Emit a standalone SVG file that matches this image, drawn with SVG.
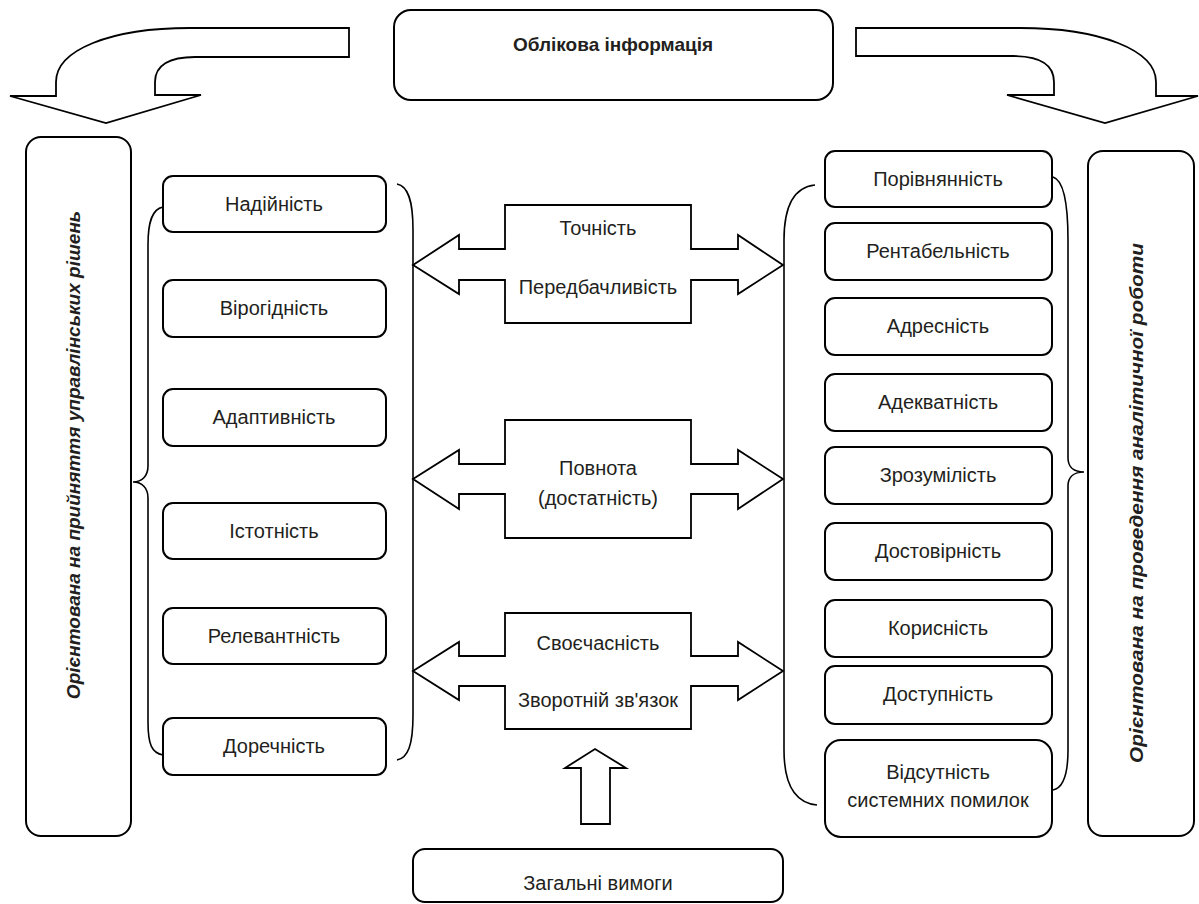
<svg xmlns="http://www.w3.org/2000/svg" width="1199" height="904" viewBox="0 0 1199 904">
<style>
.box{fill:#fff;stroke:#000;stroke-width:2}
.brace{fill:none;stroke:#000;stroke-width:1.6}
.arrow{fill:#fff;stroke:#000;stroke-width:1.8}
.t{font-family:"Liberation Sans",Arial,sans-serif;font-size:20px;fill:#231f20;text-anchor:middle}
.tb{font-weight:bold;font-size:19px}
.tv{font-weight:bold;font-style:italic;font-size:19px}
</style>
<rect width="1199" height="904" fill="#fff"/>
<g id="connectors">
<path class="arrow" d="M349,28 L190,28 C110,28 56,50 56,82 L56,96 L10,96 L106,123 L201,95 L155,95 L155,82 C155,65 170,57 195,57 L349,57 Z"/>
<path class="arrow" d="M856,28 L1020,28 C1100,28 1156,50 1156,82 L1156,96 L1198,96 L1105,123 L1007,95 L1054,95 L1054,82 C1054,65 1040,56 1013,56 L856,56 Z"/>
<path class="brace" d="M163,207 C152,209 148,222 148,245 L148,466 C148,476 142,482 133,482 C142,482 148,488 148,498 L148,722 C148,745 152,753 163,755"/>
<path class="brace" d="M397,184 C408,186 413,200 413,230 L413,715 C413,745 408,758 397,760"/>
<path class="brace" d="M815,185 C795,187 784,205 784,240 L784,750 C784,785 795,803 817,805"/>
<path class="brace" d="M1053,177 C1063,180 1068,200 1068,240 L1068,458 C1068,467 1074,472 1084,472 C1074,472 1068,477 1068,486 L1068,750 C1068,775 1063,788 1053,790"/>
<path class="arrow" d="M581,824 L581,768 L565,768 L595,749 L626,768 L610,768 L610,824 Z"/>
</g>
<g id="top">
<rect class="box" x="394" y="10" width="439" height="90" rx="17"/>
<text class="t tb" x="613" y="51">Облікова інформація</text>
</g>
<g id="left-main">
<rect class="box" x="26" y="137" width="105" height="699" rx="15"/>
<text class="t tv" transform="translate(80,455) rotate(-90)">Орієнтована на прийняття управлінських рішень</text>
</g>
<g id="right-main">
<rect class="box" x="1088" y="151" width="106" height="685" rx="15"/>
<text class="t tv" transform="translate(1143,503) rotate(-90)" textLength="520" lengthAdjust="spacingAndGlyphs">Орієнтована на проведення аналітичної роботи</text>
</g>
<g id="l1"><rect class="box" x="163" y="176" width="223" height="56" rx="10"/><text class="t" x="274" y="211">Надійність</text></g>
<g id="l2"><rect class="box" x="163" y="280" width="223" height="57" rx="10"/><text class="t" x="274" y="315">Вірогідність</text></g>
<g id="l3"><rect class="box" x="163" y="389" width="223" height="57" rx="10"/><text class="t" x="274" y="424">Адаптивність</text></g>
<g id="l4"><rect class="box" x="163" y="503" width="223" height="56" rx="10"/><text class="t" x="274" y="538">Істотність</text></g>
<g id="l5"><rect class="box" x="163" y="608" width="223" height="56" rx="10"/><text class="t" x="274" y="643">Релевантність</text></g>
<g id="l6"><rect class="box" x="163" y="718" width="223" height="57" rx="10"/><text class="t" x="274" y="753">Доречність</text></g>
<g id="r1"><rect class="box" x="825" y="151" width="227" height="56" rx="10"/><text class="t" x="938" y="186">Порівнянність</text></g>
<g id="r2"><rect class="box" x="825" y="223" width="227" height="57" rx="10"/><text class="t" x="938" y="258">Рентабельність</text></g>
<g id="r3"><rect class="box" x="825" y="298" width="227" height="57" rx="10"/><text class="t" x="938" y="333">Адресність</text></g>
<g id="r4"><rect class="box" x="825" y="374" width="227" height="57" rx="10"/><text class="t" x="938" y="409">Адекватність</text></g>
<g id="r5"><rect class="box" x="825" y="447" width="227" height="57" rx="10"/><text class="t" x="938" y="482">Зрозумілість</text></g>
<g id="r6"><rect class="box" x="825" y="523" width="227" height="57" rx="10"/><text class="t" x="938" y="558">Достовірність</text></g>
<g id="r7"><rect class="box" x="825" y="600" width="227" height="57" rx="10"/><text class="t" x="938" y="635">Корисність</text></g>
<g id="r8"><rect class="box" x="825" y="666" width="227" height="58" rx="10"/><text class="t" x="938" y="701">Доступність</text></g>
<g id="r9"><rect class="box" x="825" y="740" width="227" height="97" rx="16"/><text class="t" x="938" y="779">Відсутність</text><text class="t" x="938" y="807">системних помилок</text></g>
<g id="c1">
<path class="arrow" d="M505,205 L691,205 L691,249 L738,249 L738,235 L783,265 L738,294 L738,280 L691,280 L691,323 L505,323 L505,280 L459,280 L459,294 L413,265 L459,235 L459,249 L505,249 Z"/>
<text class="t" x="598" y="235">Точність</text>
<text class="t" x="598" y="294">Передбачливість</text>
</g>
<g id="c2">
<path class="arrow" d="M505,420 L691,420 L691,464 L738,464 L738,450 L783,479 L738,509 L738,494 L691,494 L691,538 L505,538 L505,494 L459,494 L459,509 L413,479 L459,450 L459,464 L505,464 Z"/>
<text class="t" x="598" y="475">Повнота</text>
<text class="t" x="598" y="505">(достатність)</text>
</g>
<g id="c3">
<path class="arrow" d="M505,613 L691,613 L691,656 L738,656 L738,642 L783,671 L738,700 L738,686 L691,686 L691,729 L505,729 L505,686 L459,686 L459,700 L413,671 L459,642 L459,656 L505,656 Z"/>
<text class="t" x="598" y="650">Своєчасність</text>
<text class="t" x="598" y="707">Зворотній зв'язок</text>
</g>
<g id="bottom">
<rect class="box" x="413" y="849" width="370" height="53" rx="12"/>
<text class="t" x="598" y="890">Загальні вимоги</text>
</g>
</svg>
